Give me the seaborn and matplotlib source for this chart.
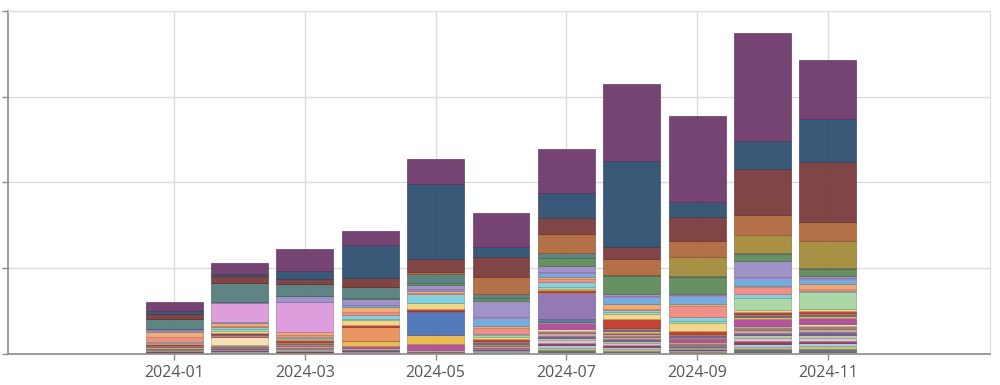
import numpy as np
import pandas as pd
import matplotlib
matplotlib.use('Agg')
import matplotlib.pyplot as plt
import matplotlib.colors as mcolors
import seaborn as sns

# 月份
months = ['2024-01', '2024-02', '2024-03', '2024-04', '2024-05', '2024-06',
          '2024-07', '2024-08', '2024-09', '2024-10', '2024-11']

# 各系列数值（自下而上堆叠）
cream     = [0.5, 0.7, 0.6, 0.4, 0.2, 0.7, 2.0, 1.8, 1.0, 2.5, 2.0]
slate     = [0.5, 0.8, 0.7, 0.5, 0.3, 0.6, 1.8, 1.7, 1.0, 2.5, 3.0]
khaki     = [0.5, 0.7, 0.6, 0.5, 0.3, 0.6, 2.0, 1.7, 1.0, 2.5, 2.6]
lightblue = [0.4, 0.6, 0.6, 0.5, 0.2, 0.7, 3.0, 2.0, 1.2, 2.8, 3.0]
maroon    = [0.7, 1.0, 0.8, 0.6, 0.3, 0.6, 2.0, 1.8, 1.0, 2.5, 2.5]
lilac     = [0.6, 0.8, 0.8, 0.5, 0.3, 0.7, 3.0, 2.0, 1.2, 3.0, 3.0]
sage      = [0.5, 0.7, 0.6, 0.5, 0.2, 0.6, 2.5, 2.0, 1.0, 3.0, 3.0]
mauve     = [0.6, 0.8, 0.7, 0.5, 0.4, 0.7, 2.0, 2.0, 1.0, 2.5, 3.0]
dustypink = [0.8, 1.0, 0.8, 0.5, 0.3, 0.8, 2.5, 2.0, 1.0, 3.0, 3.0]
taupe     = [1.0, 1.5, 1.0, 0.8, 0.5, 1.0, 2.5, 2.0, 1.5, 3.0, 3.0]
wheat     = [1.0, 8.7, 1.0, 1.0, 1.0, 1.0, 2.0, 1.0, 1.0, 1.0, 1.5]
magenta   = [0.5, 1.0, 1.0, 2.0, 6.0, 1.5, 6.0, 1.5, 4.0, 6.7, 6.7]
gold      = [0.5, 1.0, 1.0, 4.7, 9.0, 1.0, 1.0, 2.0, 1.0, 2.0, 2.0]
royal     = [0.0, 0.0, 0.0, 0.0, 23.3, 1.0, 3.0, 1.0, 1.0, 1.0, 1.0]
violet    = [0.0, 0.5, 0.5, 0.5, 0.5, 1.0, 26.0, 1.0, 1.0, 1.0, 1.0]
bigorange = [0.5, 0.5, 1.0, 13.3, 0.5, 1.0, 1.0, 1.0, 1.0, 1.0, 1.0]
red       = [1.0, 0.5, 2.0, 2.7, 1.5, 2.0, 2.0, 8.3, 3.0, 2.0, 1.5]
yellow    = [1.0, 2.5, 1.0, 4.7, 6.0, 1.5, 1.0, 5.0, 8.3, 2.0, 2.3]
lightgreen= [0.5, 2.0, 1.0, 0.5, 0.5, 2.0, 2.0, 2.0, 2.0, 11.7, 16.7]
cyan      = [0.5, 1.5, 1.0, 4.3, 9.0, 1.0, 4.7, 2.0, 4.0, 4.3, 1.5]
salmon    = [5.7, 1.0, 2.0, 3.0, 1.0, 5.7, 3.3, 1.5, 11.0, 6.7, 1.5]
orange    = [4.4, 3.3, 3.0, 5.0, 2.3, 2.0, 1.5, 5.0, 2.0, 2.0, 5.7]
blue      = [1.0, 0.5, 0.5, 2.0, 1.0, 8.3, 4.3, 6.7, 7.7, 7.3, 4.3]
pink      = [1.0, 20.0, 30.0, 0.5, 0.5, 1.0, 1.5, 1.0, 1.0, 1.0, 1.5]
lavender  = [1.0, 1.0, 6.0, 5.7, 3.7, 16.0, 5.7, 2.0, 1.5, 16.7, 2.0]
green     = [0.0, 0.0, 0.0, 0.5, 2.3, 3.3, 7.7, 18.3, 17.3, 6.7, 6.7]
teal      = [10.0, 19.0, 11.7, 11.7, 9.3, 4.0, 5.0, 1.0, 1.0, 1.0, 1.0]
olive     = [0.0, 0.0, 0.0, 0.0, 0.0, 0.0, 0.0, 0.0, 19.0, 18.3, 27.7]
rust      = [0.0, 0.0, 0.0, 0.0, 2.3, 16.7, 19.0, 15.7, 15.3, 20.0, 19.0]
brown     = [5.7, 6.7, 5.7, 9.0, 12.3, 20.0, 16.0, 12.0, 24.0, 45.7, 60.0]
navy      = [2.3, 2.3, 7.7, 33.3, 75.0, 10.7, 25.0, 86.7, 15.7, 28.3, 43.3]
purple    = [9.3, 10.4, 21.7, 13.3, 26.0, 33.3, 45.0, 77.3, 86.3, 108.3, 59.0]

series = [
    (cream, '#efe3c4'), (slate, '#5d6d7e'), (khaki, '#cdbb6a'), (lightblue, '#a6c8e8'),
    (maroon, '#8e3b46'), (lilac, '#e0b8e0'), (sage, '#b5c99a'), (mauve, '#6b5b95'),
    (dustypink, '#c9a0a0'), (taupe, '#9e7b6b'), (wheat, '#f5deb3'), (magenta, '#b04a9a'),
    (gold, '#e8b84a'), (royal, '#4a74b8'), (violet, '#8e72b0'), (bigorange, '#e8915a'),
    (red, '#c0392b'), (yellow, '#f2d584'), (lightgreen, '#a8d5a2'), (cyan, '#7fcfdc'),
    (salmon, '#f08a80'), (orange, '#f4a76a'), (blue, '#6fa8dc'), (pink, '#dd99dd'),
    (lavender, '#9b8dc8'), (green, '#5f8a5a'), (teal, '#557d7c'), (olive, '#a38b3a'),
    (rust, '#b0693e'), (brown, '#7a3b3b'), (navy, '#2f5072'), (purple, '#6e3a6a'),
]

sns.set_style('whitegrid')
plt.rcParams['font.family'] = ['Open Sans', 'DejaVu Sans']

fig = plt.figure(figsize=(10, 3.85), dpi=100)
ax = fig.add_axes([0.008, 0.0805, 0.982, 0.891])

x = np.arange(len(months))
bottom = np.zeros(len(months))
for vals, col in series:
    vals = np.array(vals)
    edge = np.array(mcolors.to_rgb(col)) * 0.75
    ax.bar(x, vals, width=0.87, bottom=bottom, color=col, edgecolor=edge,
           linewidth=0.45, alpha=0.95, zorder=2)
    bottom += vals

ax.set_xlim(-2.54, 12.48)
ax.set_ylim(0, 344)
ax.set_yticks([0, 86, 172, 258, 344])
ax.set_yticklabels([])
ax.set_xticks(x[::2])
ax.set_xticklabels(months[::2], fontsize=11.5, color='#555555')

ax.grid(True, color='#dcdcdc', linewidth=1)
ax.set_axisbelow(True)
for side in ['top', 'right']:
    ax.spines[side].set_color('#dcdcdc')
for side in ['left', 'bottom']:
    ax.spines[side].set_color('#8a8a8a')
    ax.spines[side].set_linewidth(1.2)
ax.tick_params(axis='both', which='both', direction='out', length=4,
               width=1, color='#8a8a8a', left=True, bottom=True, pad=4)

plt.savefig('out.png', dpi=100)
